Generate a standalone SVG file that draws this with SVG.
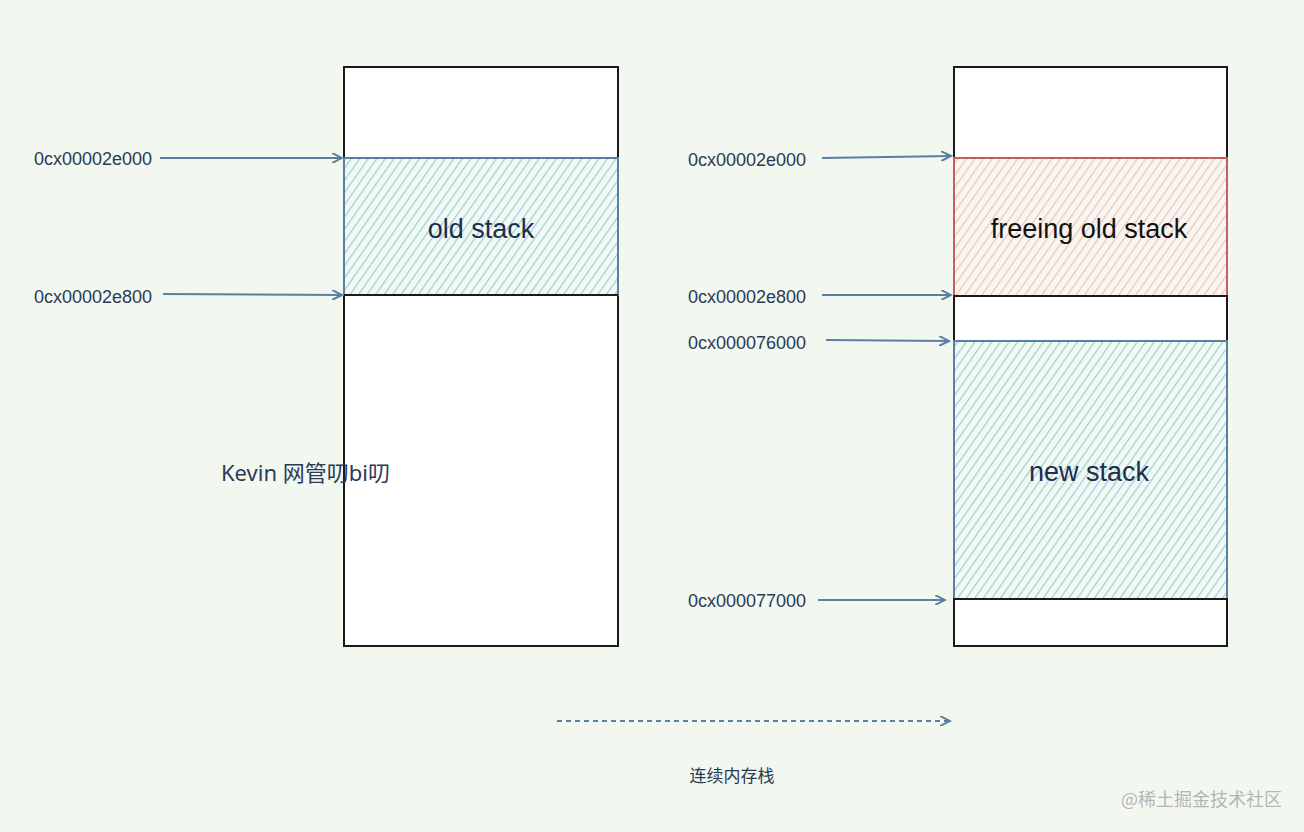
<svg xmlns="http://www.w3.org/2000/svg" width="1304" height="832" viewBox="0 0 1304 832">
<style>
.addr{font-family:"Liberation Sans",Arial,sans-serif;font-size:18px;fill:#2b3a55}
.big{font-family:"Liberation Sans",Arial,sans-serif;font-size:27px;text-anchor:middle}
.box{fill:#ffffff;stroke:#1a1a1a;stroke-width:2}
.conn{stroke:#5a7fa3;stroke-width:2;fill:none}
</style>
<defs>
<pattern id="hatchBlue" patternUnits="userSpaceOnUse" width="7" height="7" patternTransform="rotate(35)">
<rect width="7" height="7" fill="#f1f9f7"/>
<line x1="0" y1="0" x2="0" y2="7" stroke="#9ccfc7" stroke-width="2.4"/>
</pattern>
<pattern id="hatchRed" patternUnits="userSpaceOnUse" width="7" height="7" patternTransform="rotate(35)">
<rect width="7" height="7" fill="#f8f6f0"/>
<line x1="0" y1="0" x2="0" y2="7" stroke="#f0c0be" stroke-width="2.4"/>
</pattern>
<marker id="arr" markerWidth="12" markerHeight="10" refX="10" refY="5" orient="auto" markerUnits="userSpaceOnUse">
<path d="M0,0 L10,5 L0,10" fill="none" stroke="#5a7fa3" stroke-width="2"/>
</marker>
</defs>
<rect width="1304" height="832" fill="#f2f8f0"/>

<g id="left-column">
<rect class="box" x="344" y="67" width="274" height="579"/>
<rect x="344" y="158" width="274" height="137" fill="url(#hatchBlue)" stroke="#5a7fa3" stroke-width="2"/>
<line x1="344" y1="295" x2="618" y2="295" stroke="#1a1a1a" stroke-width="2"/>
<text class="big" x="481" y="238" fill="#1e2d4e">old stack</text>
</g>

<g id="right-column">
<rect class="box" x="954" y="67" width="273" height="91"/>
<rect x="954" y="158" width="273" height="138" fill="url(#hatchRed)" stroke="#c46060" stroke-width="2"/>
<rect class="box" x="954" y="296" width="273" height="45"/>
<rect x="954" y="341" width="273" height="258" fill="url(#hatchBlue)" stroke="#5a7fa3" stroke-width="2"/>
<rect class="box" x="954" y="599" width="273" height="47"/>
<text class="big" x="1089" y="238" fill="#111111">freeing old stack</text>
<text class="big" x="1089" y="481" fill="#1e2d4e">new stack</text>
</g>

<g id="labels">
<text class="addr" x="34" y="165">0cx00002e000</text>
<text class="addr" x="34" y="303">0cx00002e800</text>
<text class="addr" x="688" y="166">0cx00002e000</text>
<text class="addr" x="688" y="303">0cx00002e800</text>
<text class="addr" x="688" y="349">0cx000076000</text>
<text class="addr" x="688" y="607">0cx000077000</text>
</g>

<g id="connectors">
<line class="conn" x1="160" y1="158" x2="342" y2="158" marker-end="url(#arr)"/>
<line class="conn" x1="163" y1="294" x2="342" y2="295" marker-end="url(#arr)"/>
<line class="conn" x1="822" y1="158" x2="951" y2="156" marker-end="url(#arr)"/>
<line class="conn" x1="822" y1="295" x2="951" y2="295" marker-end="url(#arr)"/>
<line class="conn" x1="826" y1="340" x2="949" y2="341" marker-end="url(#arr)"/>
<line class="conn" x1="818" y1="600" x2="945" y2="600" marker-end="url(#arr)"/>
<line class="conn" x1="557" y1="721" x2="950" y2="721" stroke-dasharray="5,4" marker-end="url(#arr)"/>
</g>

<g id="captions">
<text x="221" y="481" font-family="'Noto Sans','Noto Sans CJK SC',sans-serif" font-size="22" fill="#2b3a55">Kevin 网管叨bi叨</text>
<text x="732" y="782" text-anchor="middle" font-family="'Noto Sans CJK SC',sans-serif" font-size="17" fill="#2b3a55">连续内存栈</text>
<text x="1282" y="806" text-anchor="end" font-family="'Noto Sans CJK SC',sans-serif" font-size="18" fill="#b5b5b5">@稀土掘金技术社区</text>
</g>
</svg>
